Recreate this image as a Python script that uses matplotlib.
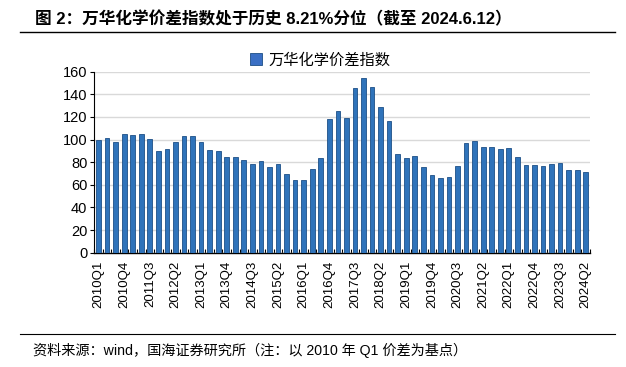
import matplotlib.pyplot as plt
import matplotlib.patches as mpatches
from matplotlib.lines import Line2D
import numpy as np

plt.rcParams['font.family'] = ['Liberation Sans', 'Noto Sans CJK SC', 'DejaVu Sans']

# Data
years = list(range(2010, 2025))
quarters = [f"{y}Q{q}" for y in years for q in range(1, 5)][:58]
spread_index = [
    100, 101, 98, 105, 104, 105, 100.5, 90, 91.5, 97.5,
    103, 103, 97.5, 91, 90, 84.6, 85, 82, 78, 81,
    75.5, 78, 70, 64, 64.3, 74.3, 83.7, 118, 125.3, 119.4,
    146, 154, 146.5, 129, 116, 87, 83.5, 85.5, 76, 68.7,
    66.3, 66.6, 76.7, 97, 98.8, 93.5, 93.8, 91.7, 92.2, 84.3,
    77.3, 77.6, 76.7, 78.2, 79.6, 72.8, 72.8, 71.1,
]
series_name = "万华化学价差指数"
title = "图 2：万华化学价差指数处于历史 8.21%分位（截至 2024.6.12）"
source = "资料来源：wind，国海证券研究所（注：以 2010 年 Q1 价差为基点）"

fig = plt.figure(figsize=(6.26, 3.67), dpi=100)
ax = fig.add_axes([0.1506, 0.3114, 0.7919, 0.4932])

x = np.arange(len(spread_index))
ax.bar(x, spread_index, width=0.55, color="#2F73BA", edgecolor="#1D4F86", linewidth=0.6,
       zorder=3)

ax.set_xlim(-0.5, len(spread_index) - 0.5)
ax.set_ylim(0, 160)
ax.set_yticks(range(0, 161, 20))
ax.tick_params(axis='y', labelsize=10.5, length=3, width=0.8, pad=2)
ax.yaxis.grid(True, color="#D9D9D9", linewidth=1.0, zorder=0)

# category labels every 3 quarters, small ticks between bars
ax.set_xticks(x[::3])
ax.set_xticklabels(quarters[::3], rotation=90, fontsize=9.5)
ax.tick_params(axis='x', length=0, pad=6)
ax.set_xticks(np.arange(-0.5, len(spread_index)), minor=True)
ax.tick_params(axis='x', which='minor', length=3, width=0.8, direction='in')

for s in ['top', 'right']:
    ax.spines[s].set_visible(False)
ax.spines['left'].set_color('black')
ax.spines['bottom'].set_color('black')
ax.spines['bottom'].set_linewidth(1.0)

handle = mpatches.Patch(facecolor="#3A6FC4", edgecolor="#1D4F86", linewidth=0.6,
                        label=series_name)
leg = ax.legend(handles=[handle], loc='lower center', bbox_to_anchor=(0.455, 0.99),
                frameon=False, fontsize=11, handlelength=0.8, handleheight=0.8,
                handletextpad=0.4, borderaxespad=0)

# header and footer
fig.text(0.056, 0.948, title, fontsize=12, fontweight='bold', va='center', ha='left')
fig.add_artist(Line2D([0.032, 0.982], [0.913, 0.913], color='black', linewidth=1.0,
                      transform=fig.transFigure))
fig.add_artist(Line2D([0.032, 0.982], [0.09, 0.09], color='black', linewidth=0.8,
                      transform=fig.transFigure))
fig.text(0.052, 0.046, source, fontsize=10.2, va='center', ha='left')

fig.savefig("out.png", dpi=100, facecolor='white')
